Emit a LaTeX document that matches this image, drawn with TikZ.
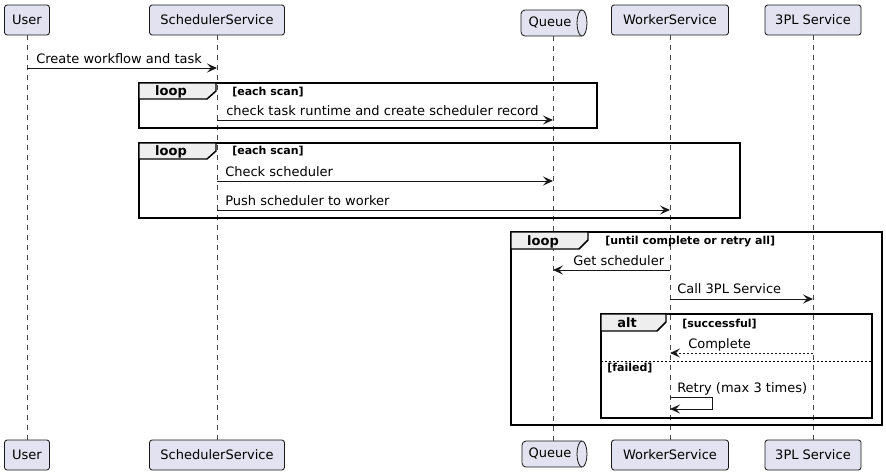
\documentclass[tikz,border=0pt]{standalone}
\usepackage{fontspec}
\setmainfont{DejaVu Sans}
\usetikzlibrary{arrows.meta}

\definecolor{partfill}{HTML}{E2E2F0}
\definecolor{partline}{HTML}{181818}
\definecolor{tabfill}{HTML}{EEEEEE}

\tikzset{
  part/.style={draw=partline, fill=partfill, rounded corners=2pt, line width=0.6pt,
    minimum height=22.5pt, inner sep=0pt, font=\fontsize{9.75}{12}\selectfont},
  qtext/.style={inner sep=0pt, font=\fontsize{9.75}{12}\selectfont},
  qbox/.style={draw=partline, fill=partfill, line width=0.6pt},
  life/.style={draw=partline!80, line width=0.5pt, dash pattern=on 3.75pt off 3.75pt},
  msg/.style={draw=partline, line width=0.75pt, -{Stealth[length=7.5pt,width=6.75pt,inset=3pt]}},
  reply/.style={msg, dash pattern=on 1.5pt off 1.5pt},
  lbl/.style={anchor=base west, inner sep=0pt, font=\fontsize{9.75}{12}\selectfont},
  frame/.style={draw=black, line width=1.1pt},
  tab/.style={draw=black, fill=tabfill, line width=1.1pt},
  ftitle/.style={inner sep=0pt, anchor=base, font=\bfseries\fontsize{9.75}{12}\selectfont},
  guard/.style={anchor=base west, inner sep=0pt, font=\bfseries\fontsize{8.25}{10}\selectfont}
}

\begin{document}
\begin{tikzpicture}[x=0.75pt, y=-0.75pt]
\useasboundingbox (0,0) rectangle (886,475);

% participants, top and bottom
\node[part, minimum width=33.75pt] (user) at (27,20) {User};
\node[part, minimum width=101.25pt] (sched) at (217,20) {SchedulerService};
\node[part, minimum width=87.75pt] (worker) at (670,20) {WorkerService};
\node[part, minimum width=72pt] (tpl) at (813,20) {3PL Service};
\node[part, minimum width=33.75pt] (userb) at (27,455) {User};
\node[part, minimum width=101.25pt] (schedb) at (217,455) {SchedulerService};
\node[part, minimum width=87.75pt] (workerb) at (670,455) {WorkerService};
\node[part, minimum width=72pt] (tplb) at (813,455) {3PL Service};

% queue cylinders
\draw[qbox] (582,10) arc[start angle=90, end angle=-90, x radius=3.75pt, y radius=9.75pt]
  [rounded corners=3pt] -- (521,36) -- (521,10) [sharp corners] -- cycle;
\draw[qbox] (582,10) arc[start angle=90, end angle=270, x radius=3.75pt, y radius=9.75pt];
\node[qtext, minimum height=19.5pt] (queue) at (553,23) {};
\node[qtext] (queuetxt) at (550,23) {Queue};
\draw[qbox] (582,441) arc[start angle=90, end angle=-90, x radius=3.75pt, y radius=9.75pt]
  [rounded corners=3pt] -- (522,467) -- (522,441) [sharp corners] -- cycle;
\draw[qbox] (582,441) arc[start angle=90, end angle=270, x radius=3.75pt, y radius=9.75pt];
\node[qtext, minimum height=19.5pt] (queueb) at (553,454) {};
\node[qtext] (queuebtxt) at (550,454) {Queue};

% lifelines
\draw[life] (user) -- (userb);
\draw[life] (sched) -- (schedb);
\draw[life] (queue) -- (queueb);
\draw[life] (worker) -- (workerb);
\draw[life] (tpl) -- (tplb);

% first call
\draw[msg] (user |- 0,68) -- (sched |- 0,68);
\node[lbl] (m1) at (36,63) {Create workflow and task};

% loop 1
\draw[frame] (139,83) rectangle (597,128);
\draw[tab] (139,83) -- (216,83) -- (216,91) -- (207,99) -- (139,99) -- cycle;
\node[ftitle] (l1) at (171,95) {loop};
\node[guard] (g1) at (232,95) {[each scan]};
\draw[msg] (sched |- 0,120) -- (queue |- 0,120);
\node[lbl] (m2) at (226,115) {check task runtime and create scheduler record};

% loop 2
\draw[frame] (139,143) rectangle (740,218);
\draw[tab] (139,143) -- (216,143) -- (216,151) -- (207,159) -- (139,159) -- cycle;
\node[ftitle] (l2) at (171,155) {loop};
\node[guard] (g2) at (232,154) {[each scan]};
\draw[msg] (sched |- 0,181) -- (queue |- 0,181);
\node[lbl] (m3) at (225,176) {Check scheduler};
\draw[msg] (sched |- 0,210) -- (worker |- 0,210);
\node[lbl] (m4) at (225,205) {Push scheduler to worker};

% loop 3
\draw[frame] (511,232) rectangle (882,425);
\draw[tab] (511,232) -- (588,232) -- (588,240) -- (579,249) -- (511,249) -- cycle;
\node[ftitle] (l3) at (543,245) {loop};
\node[guard] (g3) at (605,244) {[until complete or retry all]};
\draw[msg] (worker |- 0,270) -- (queue |- 0,270);
\node[lbl] (m5) at (573,265) {Get scheduler};
\draw[msg] (worker |- 0,299) -- (tpl |- 0,299);
\node[lbl] (m6) at (677,293) {Call 3PL Service};

% alt
\draw[frame] (601,314) rectangle (872,418);
\draw[tab] (601,314) -- (666,314) -- (666,322) -- (657,331) -- (601,331) -- cycle;
\node[ftitle] (a1) at (627,327) {alt};
\node[guard] (g4) at (682,327) {[successful]};
\draw[reply] (tpl |- 0,353) -- (worker |- 0,353);
\node[lbl] (m7) at (688,348) {Complete};
\draw[line width=0.6pt, dash pattern=on 1.5pt off 1.5pt] (601,361) -- (872,361);
\node[guard] (g5) at (607,371) {[failed]};
\draw[msg] (worker |- 0,397) -- (712,397) -- (712,409) -- (worker |- 0,409);
\node[lbl] (m8) at (677,392) {Retry (max 3 times)};

\end{tikzpicture}
\end{document}
